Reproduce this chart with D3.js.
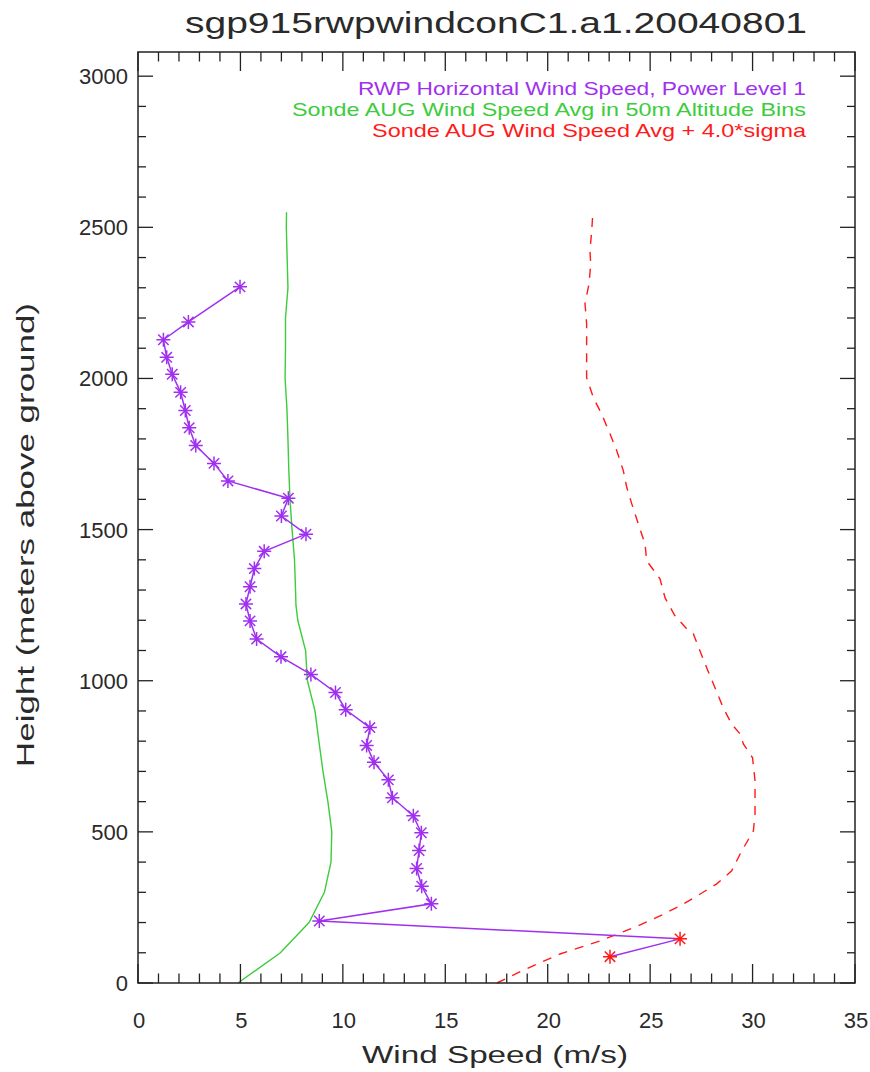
<!DOCTYPE html>
<html>
<head>
<meta charset="utf-8">
<script src="https://cdn.jsdelivr.net/npm/d3@7"></script>
<style>
    body { margin: 0; background: #fff; }
    text { font-family: "Liberation Sans", "DejaVu Sans", sans-serif; fill: #2a2a2a; }
</style>
</head>
<body>
<svg id="chart"></svg>
<script>
// RWP wind speed profile (m/s) vs height (m)
let rwpHeight = [87, 146, 205, 262, 320, 379, 438, 497, 553, 613, 672, 730, 786, 845, 904, 961,
    1021, 1079, 1138, 1198, 1254, 1311, 1371, 1428, 1485, 1545, 1604, 1661, 1719, 1778, 1837,
    1894, 1954, 2014, 2070, 2128, 2187, 2303];
let rwpSpeed = [23.04, 26.46, 8.85, 14.32, 13.85, 13.60, 13.72, 13.83, 13.44, 12.42, 12.22, 11.52,
    11.16, 11.32, 10.14, 9.64, 8.44, 6.98, 5.79, 5.47, 5.27, 5.47, 5.68, 6.16, 8.20, 7.00, 7.34,
    4.39, 3.71, 2.82, 2.50, 2.31, 2.08, 1.67, 1.40, 1.24, 2.46, 4.98];

// sonde average
let avgHeight = [0, 100, 200, 300, 400, 500, 600, 700, 800, 900, 1000, 1100, 1200, 1250, 1300,
    1400, 1500, 1600, 1700, 1800, 1900, 2000, 2100, 2200, 2300, 2400, 2500, 2550];
let avgSpeed = [4.88, 6.95, 8.35, 9.10, 9.42, 9.46, 9.27, 9.03, 8.83, 8.64, 8.27, 8.18, 7.80, 7.71,
    7.69, 7.64, 7.52, 7.42, 7.36, 7.32, 7.27, 7.18, 7.20, 7.20, 7.32, 7.28, 7.24, 7.25];

// sonde average + 4 sigma
let sigHeight = [0, 40, 67, 96, 139, 189, 222, 255, 288, 328, 371, 437, 503, 559, 669, 745, 791,
    824, 857, 910, 976, 1043, 1099, 1155, 1172, 1215, 1274, 1337, 1397, 1453, 1519, 1586, 1639,
    1695, 1761, 1817, 1883, 1936, 2003, 2125, 2181, 2248, 2314, 2380, 2423, 2489, 2546];
let sigSpeed = [17.52, 18.73, 19.62, 20.60, 22.55, 24.41, 25.48, 26.46, 27.29, 28.25, 28.98, 29.47,
    30.04, 30.12, 30.12, 30.00, 29.55, 29.39, 28.98, 28.57, 28.17, 27.76, 27.43, 27.11, 26.78,
    26.21, 25.73, 25.48, 24.83, 24.75, 24.42, 24.10, 23.86, 23.69, 23.37, 23.04, 22.63, 22.23,
    21.90, 21.90, 21.90, 21.82, 22.02, 22.10, 22.06, 22.15, 22.20];

let xTicks = [0, 5, 10, 15, 20, 25, 30, 35];
let yTicks = [0, 500, 1000, 1500, 2000, 2500, 3000];
let legendLabels = [
    "RWP Horizontal Wind Speed, Power Level 1",
    "Sonde AUG Wind Speed Avg in 50m Altitude Bins",
    "Sonde AUG Wind Speed Avg + 4.0*sigma"
];

let w = 870, h = 1072;
let pLeft = 138, pRight = 855, pTop = 52, pBottom = 983;
let purple = "#a030f0", green = "#3ccc3c", red = "#ff1a1a", ink = "#222";

let svg = d3.select('#chart')
    .attr('width', w)
    .attr('height', h);

let xScale = d3.scaleLinear().domain([0, 35]).range([pLeft, pRight]);
let yScale = d3.scaleLinear().domain([0, 3080]).range([pBottom, pTop]);

let zip = (hs, vs) => hs.map((d, i) => ({ h: d, v: vs[i] }));
let line = d3.line().x(d => xScale(d.v)).y(d => yScale(d.h));

//sonde avg (green)
svg.append('path')
    .datum(zip(avgHeight, avgSpeed))
    .attr('d', line)
    .attr('fill', 'none')
    .attr('stroke', green)
    .attr('stroke-width', 1.4);

//avg + 4 sigma (red dashed)
svg.append('path')
    .datum(zip(sigHeight, sigSpeed))
    .attr('d', line)
    .attr('fill', 'none')
    .attr('stroke', red)
    .attr('stroke-width', 1.4)
    .attr('stroke-dasharray', '9,8');

//rwp line + asterisks
let rwp = zip(rwpHeight, rwpSpeed);
svg.append('path')
    .datum(rwp)
    .attr('d', line)
    .attr('fill', 'none')
    .attr('stroke', purple)
    .attr('stroke-width', 1.5);

let sigAt = d3.scaleLinear().domain(sigHeight).range(sigSpeed);
function star(cx, cy) {
    let r = 7, q = 5.2;
    return 'M' + (cx - r) + ',' + cy + 'H' + (cx + r) +
        'M' + cx + ',' + (cy - r) + 'V' + (cy + r) +
        'M' + (cx - q) + ',' + (cy - q) + 'L' + (cx + q) + ',' + (cy + q) +
        'M' + (cx - q) + ',' + (cy + q) + 'L' + (cx + q) + ',' + (cy - q);
}
svg.selectAll('.pt')
    .data(rwp)
    .enter()
    .append('path')
    .classed('pt', true)
    .attr('d', d => star(xScale(d.v), yScale(d.h)))
    .attr('stroke', d => d.v > sigAt(d.h) ? red : purple)
    .attr('stroke-width', 1.5);

//box
svg.append('rect')
    .attr('x', pLeft).attr('y', pTop)
    .attr('width', pRight - pLeft).attr('height', pBottom - pTop)
    .attr('fill', 'none')
    .attr('stroke', ink)
    .attr('stroke-width', 1.5);

//ticks on all four sides, pointing in
let xMinor = d3.range(0, 36, 1);
let yMinor = d3.range(0, 3080, 100);
let tickG = svg.append('g').attr('stroke', ink).attr('stroke-width', 1.3);
xMinor.forEach(v => {
    let len = v % 5 === 0 ? 19 : 9.5;
    tickG.append('line').attr('x1', xScale(v)).attr('x2', xScale(v))
        .attr('y1', pBottom).attr('y2', pBottom - len);
    tickG.append('line').attr('x1', xScale(v)).attr('x2', xScale(v))
        .attr('y1', pTop).attr('y2', pTop + len);
});
yMinor.forEach(v => {
    let len = v % 500 === 0 ? 15 : 8;
    tickG.append('line').attr('y1', yScale(v)).attr('y2', yScale(v))
        .attr('x1', pLeft).attr('x2', pLeft + len);
    tickG.append('line').attr('y1', yScale(v)).attr('y2', yScale(v))
        .attr('x1', pRight).attr('x2', pRight - len);
});

//tick labels
svg.selectAll('.xlab')
    .data(xTicks)
    .enter()
    .append('text')
    .attr('x', d => xScale(d) + 1)
    .attr('y', 1028)
    .style('text-anchor', 'middle')
    .style('font-size', '22px')
    .text(d => d);

svg.selectAll('.ylab')
    .data(yTicks)
    .enter()
    .append('text')
    .attr('x', 128)
    .attr('y', d => yScale(d) + 8)
    .style('text-anchor', 'end')
    .style('font-size', '22px')
    .text(d => d);

//title
svg.append('text')
    .attr('x', 496)
    .attr('y', 33)
    .style('text-anchor', 'middle')
    .style('font-size', '30px')
    .attr('textLength', 622)
    .attr('lengthAdjust', 'spacingAndGlyphs')
    .text('sgp915rwpwindconC1.a1.20040801');

//x-axis title
svg.append('text')
    .attr('x', 495)
    .attr('y', 1063)
    .style('text-anchor', 'middle')
    .style('font-size', '23px')
    .attr('textLength', 266)
    .attr('lengthAdjust', 'spacingAndGlyphs')
    .text('Wind Speed (m/s)');

//y-axis title
svg.append('text')
    .attr('transform', 'rotate(-90)')
    .attr('x', -535)
    .attr('y', 34)
    .style('text-anchor', 'middle')
    .style('font-size', '23px')
    .attr('textLength', 464)
    .attr('lengthAdjust', 'spacingAndGlyphs')
    .text('Height (meters above ground)');

//legend
let legendColors = [purple, green, red];
let legendWidths = [448, 514, 434];
svg.selectAll('.leg')
    .data(legendLabels)
    .enter()
    .append('text')
    .attr('x', 806)
    .attr('y', (d, i) => 95 + i * 21)
    .style('text-anchor', 'end')
    .style('font-size', '19px')
    .style('fill', (d, i) => legendColors[i])
    .attr('textLength', (d, i) => legendWidths[i])
    .attr('lengthAdjust', 'spacingAndGlyphs')
    .text(d => d);
</script>
</body>
</html>
